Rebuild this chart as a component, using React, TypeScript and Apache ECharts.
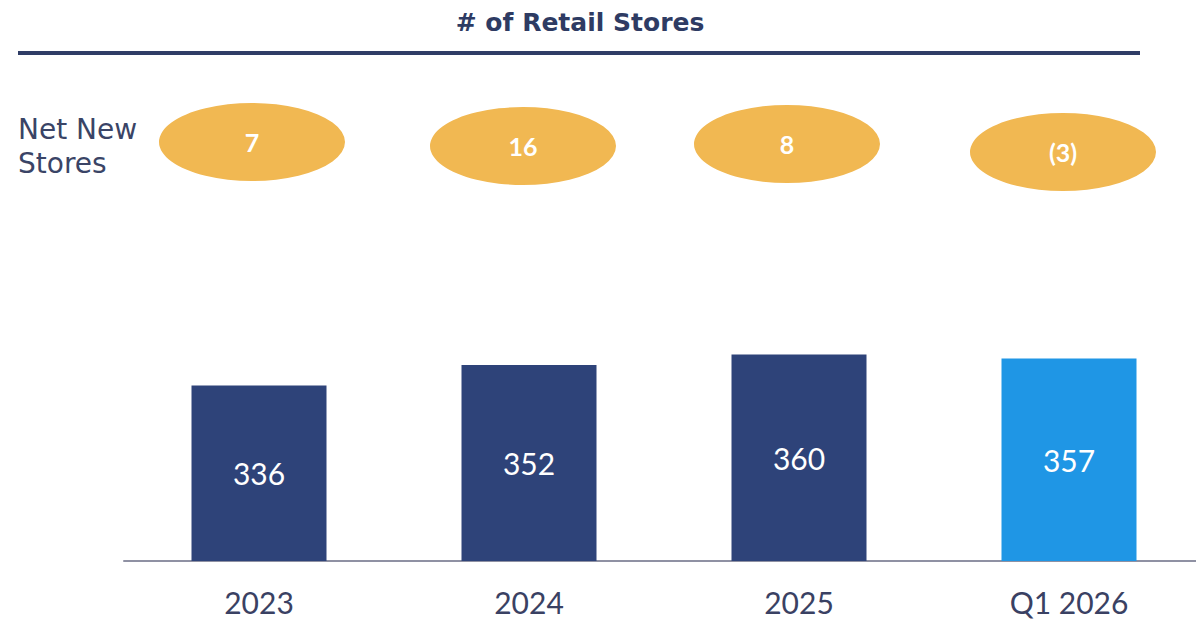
import React, { useEffect, useRef } from "react";
import * as echarts from "echarts";

const categories = ["2023", "2024", "2025", "Q1 2026"];
const storeCounts = [336, 352, 360, 357];
const netNewStores = [7, 16, 8, -3];
const barColors = ["#2E4379", "#2E4379", "#2E4379", "#1F96E5"];
const ellipseOffsets = [[-7, -2], [-6, 2], [-12, 0], [-6, 8]];

const titleText = "# of Retail Stores";
const rowLabel = "Net New\nStores";
const FONT = "Lato, 'Noto Sans', sans-serif";
const WIDE_FONT = "'DejaVu Sans', sans-serif";

const fmtNet = (n: number) => (n < 0 ? `(${-n})` : `${n}`);

export default function App() {
  const ref = useRef<HTMLDivElement>(null);
  useEffect(() => {
    if (!ref.current) return;
    const chart = echarts.init(ref.current, null, { renderer: "svg" });
    chart.setOption({
      animation: false,
      backgroundColor: "#ffffff",
      grid: [
        { left: 124, width: 1080, top: 303, height: 258 },
        { left: 124, width: 1080, top: 104, height: 80 },
      ],
      xAxis: [
        {
          type: "category",
          gridIndex: 0,
          data: categories,
          axisLine: { show: true, lineStyle: { color: "#8F91A3", width: 2 } },
          axisTick: { show: false },
          axisLabel: { fontSize: 30, color: "#3A4163", margin: 26, fontFamily: FONT },
        },
        { type: "category", gridIndex: 1, data: categories, show: false },
      ],
      yAxis: [
        { type: "value", gridIndex: 0, min: 200, max: 400, show: false, splitLine: { show: false } },
        { type: "value", gridIndex: 1, min: -1, max: 1, show: false, splitLine: { show: false } },
      ],
      graphic: [
        {
          type: "text",
          x: 580,
          y: 22,
          style: {
            text: titleText,
            align: "center",
            verticalAlign: "middle",
            fontSize: 25,
            fontWeight: "bold",
            fontFamily: WIDE_FONT,
            fill: "#2E3B63",
          },
        },
        {
          type: "line",
          shape: { x1: 18, y1: 53, x2: 1140, y2: 53 },
          style: { stroke: "#2F3D66", lineWidth: 4 },
        },
        {
          type: "text",
          x: 18,
          y: 146,
          style: {
            text: rowLabel,
            align: "left",
            verticalAlign: "middle",
            fontSize: 28,
            lineHeight: 34,
            fontFamily: WIDE_FONT,
            fill: "#3A4466",
          },
        },
      ],
      series: [
        {
          type: "bar",
          xAxisIndex: 0,
          yAxisIndex: 0,
          barWidth: 135,
          data: storeCounts.map((v, i) => ({ value: v, itemStyle: { color: barColors[i] } })),
          label: {
            show: true,
            position: "inside",
            color: "#ffffff",
            fontSize: 30,
            fontFamily: FONT,
          },
        },
        {
          type: "scatter",
          xAxisIndex: 1,
          yAxisIndex: 1,
          symbol: "circle",
          symbolSize: [186, 78],
          data: categories.map((c, i) => ({
            value: [c, 0],
            symbolOffset: ellipseOffsets[i],
            label: {
              show: true,
              position: "inside",
              formatter: () => fmtNet(netNewStores[i]),
            },
          })),
          itemStyle: { color: "#F1B852", opacity: 1 },
          label: {
            show: true,
            color: "#ffffff",
            fontSize: 25,
            fontWeight: "bold",
            fontFamily: FONT,
          },
          emphasis: { disabled: true },
        },
      ],
    });
    return () => chart.dispose();
  }, []);
  return (
    <div style={{ position: "absolute", left: 0, top: 0, width: 1196, height: 619, overflow: "hidden" }}>
      <div ref={ref} style={{ width: 1212, height: 619 }} />
    </div>
  );
}
